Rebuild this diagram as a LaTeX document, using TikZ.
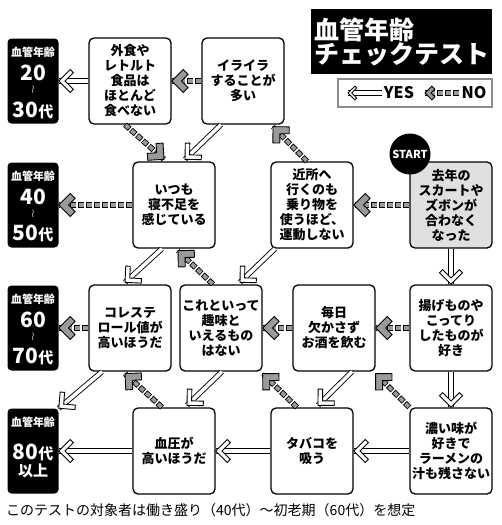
\documentclass[tikz,border=0pt]{standalone}
\usepackage{fontspec}
\setmainfont{Noto Sans CJK JP}
\usetikzlibrary{decorations.markings}
\definecolor{nogray}{HTML}{9A9A9A}
\definecolor{firstgray}{HTML}{E0E0E0}
\tikzset{
  yes/.style={draw=white, line width=3.6pt,
    preaction={draw=black, line width=5.4pt},
    postaction={decorate, decoration={markings, mark=at position 1 with {
      \filldraw[draw=black, fill=white, line width=.9pt, solid, line join=miter, scale=#1]
        (0,0) -- (-11.5,11.5) -- (-14.7,8.3) -- (-6.4,0) -- (-14.7,-8.3) -- (-11.5,-11.5) -- cycle;}}}},
  yes/.default=1,
  no/.style={draw=nogray, line width=3.8pt, dash pattern=on 4.6pt off 3.4pt, dash phase=7.3pt,
    preaction={draw=black, line width=5.6pt, dash pattern=on 6.2pt off 1.8pt, dash phase=0pt},
    postaction={decorate, decoration={markings, mark=at position 1 with {
      \filldraw[draw=black, fill=nogray, line width=.9pt, solid, line join=miter, scale=#1]
        (0,0) -- (-11.5,11.5) -- (-16.4,6.6) -- (-9.9,0) -- (-16.4,-6.6) -- (-11.5,-11.5) -- cycle;}}}},
  no/.default=1,
  qbox/.style={draw, fill=white, line width=1.3pt, rounded corners=5pt, minimum width=82pt,
    minimum height=86pt, inner sep=1pt, align=center, font=\bfseries\fontsize{13}{15}\selectfont},
  resbox/.style={fill=black, rounded corners=4pt, minimum width=51pt, minimum height=85pt},
  restag/.style={text=white, inner sep=0pt, font=\bfseries\fontsize{11}{11}\selectfont},
  resnum/.style={text=white, inner sep=0pt, font=\bfseries\fontsize{21}{21}\selectfont},
  reswave/.style={text=white, inner sep=0pt, font=\fontsize{11}{11}\selectfont},
  titlebox/.style={fill=black, text=white, minimum width=181pt, minimum height=65pt, align=left,
    font=\bfseries\fontsize{25}{24}\selectfont},
  legendbox/.style={draw=gray!90, line width=1.1pt, fill=white, minimum width=154pt, minimum height=28pt},
  legendtext/.style={inner sep=2pt, font=\bfseries\fontsize{16}{16}\selectfont},
  startdot/.style={circle, fill=black, text=white, minimum size=41pt, inner sep=0pt,
    font=\bfseries\fontsize{11}{11}\selectfont}
}
\newcommand{\dai}{{\fontsize{15}{15}\selectfont 代}}
\begin{document}
\begin{tikzpicture}[x=1pt,y=-1pt]
\useasboundingbox (0,0) rectangle (501,525);
\node[titlebox] (title) at (401.5,41.5) {血管年齢\\チェックテスト};
\node[legendbox] (legend) at (415,93) {};
\node[legendtext] (yeslabel) at (399,93) {YES};
\coordinate (yestip) at (348,93);
\draw[yes=.6] (yeslabel.west) -- (yestip);
\node[legendtext] (nolabel) at (474,93) {NO};
\coordinate (notip) at (425,93);
\draw[no=.6] (nolabel.west) -- (notip);

\node[qbox] (gaishoku) at (130,81) {外食や\\レトルト\\食品は\\ほとんど\\食べない};
\node[qbox] (iraira) at (243,81) {イライラ\\することが\\多い};
\node[qbox] (itsumo) at (174,205) {いつも\\寝不足を\\感じている};
\node[qbox] (kinjo) at (312,205) {近所へ\\行くのも\\乗り物を\\使うほど、\\運動しない};
\node[qbox, fill=firstgray] (kyonen) at (451,205) {去年の\\スカートや\\ズボンが\\合わなく\\なった};
\node[qbox] (koresute) at (130,328) {コレステ\\ロール値が\\高いほうだ};
\node[qbox] (shumi) at (221,328) {これといって\\趣味と\\いえるもの\\はない};
\node[qbox] (mainichi) at (334,328) {毎日\\欠かさず\\お酒を飲む};
\node[qbox] (agemono) at (451,328) {揚げものや\\こってり\\したものが\\好き};
\node[qbox] (ketsuatsu) at (174,451) {血圧が\\高いほうだ};
\node[qbox] (tabako) at (312,451) {タバコを\\吸う};
\node[qbox] (koiaji) at (451,451) {濃い味が\\好きで\\ラーメンの\\汁も残さない};
\node[startdot] (start) at (410,154) {START};

\node[resbox] (r20) at (33,81) {};
\node[restag] (r20t) at (33,52) {血管年齢};
\node[resnum] (r20a) at (33,73) {20};
\node[reswave] (r20w) at (33,90) {$\wr$};
\node[resnum] (r20b) at (33,110) {30\dai};
\node[resbox] (r40) at (33,205) {};
\node[restag] (r40t) at (33,176) {血管年齢};
\node[resnum] (r40a) at (33,197) {40};
\node[reswave] (r40w) at (33,214) {$\wr$};
\node[resnum] (r40b) at (33,233) {50\dai};
\node[resbox] (r60) at (33,328) {};
\node[restag] (r60t) at (33,299) {血管年齢};
\node[resnum] (r60a) at (33,320) {60};
\node[reswave] (r60w) at (33,337) {$\wr$};
\node[resnum] (r60b) at (33,356) {70\dai};
\node[resbox] (r80) at (33,451) {};
\node[restag] (r80t) at (33,422) {血管年齢};
\node[resnum] (r80a) at (33,452) {80\dai};
\node[restag, font=\bfseries\fontsize{15}{15}\selectfont] (r80b) at (33,471) {以上};

\draw[no] (iraira.west) -- (gaishoku.east);
\draw[yes] (gaishoku.west) -- (r20.east);
\draw[no] ([xshift=-5pt]gaishoku.south) -- ([xshift=-10pt,yshift=2pt]itsumo.north);
\draw[yes] ([xshift=-22pt]iraira.south) -- ([xshift=11pt,yshift=2pt]itsumo.north);
\draw[no] (itsumo.west) -- (r40.east);
\draw[no] ([xshift=-5pt]kinjo.north) -- ([xshift=30pt,yshift=-2pt]iraira.south);
\draw[no] (kyonen.west) -- (kinjo.east);
\draw[yes] (kyonen.south) -- (agemono.north);
\draw[yes] ([xshift=-37pt]kinjo.south) -- ([xshift=19pt,yshift=2pt]shumi.north);
\draw[yes] ([xshift=-12pt]itsumo.south) -- ([xshift=-5pt,yshift=2pt]koresute.north);
\draw[no] ([xshift=-8pt]shumi.north) -- ([xshift=4pt,yshift=-2pt]itsumo.south);
\draw[no] (koresute.west) -- (r60.east);
\draw[no] (mainichi.west) -- (shumi.east);
\draw[no] (agemono.west) -- (mainichi.east);
\draw[yes] (agemono.south) -- (koiaji.north);
\draw[yes] ([xshift=-28pt]koresute.south) -- (r80.north east);
\draw[yes] ([xshift=1pt]shumi.south) -- ([xshift=13pt,yshift=2pt]ketsuatsu.north);
\draw[no] ([xshift=-12pt]ketsuatsu.north) -- ([xshift=-5pt,yshift=-2pt]koresute.south);
\draw[yes] (ketsuatsu.west) -- (r80.east);
\draw[yes] (tabako.west) -- (ketsuatsu.east);
\draw[no] ([xshift=-15pt]tabako.north) -- ([yshift=-2pt]shumi.south east);
\draw[yes] ([xshift=18pt]mainichi.south) -- ([xshift=6pt,yshift=2pt]tabako.north);
\draw[no] (koiaji.north west) -- ([yshift=-2pt]mainichi.south east);
\draw[yes] (koiaji.west) -- (tabako.east);

\node[anchor=west, inner sep=0pt, font=\fontsize{14}{14}\selectfont] (note) at (6,510) {このテストの対象者は働き盛り（40代）〜初老期（60代）を想定};
\end{tikzpicture}
\end{document}
